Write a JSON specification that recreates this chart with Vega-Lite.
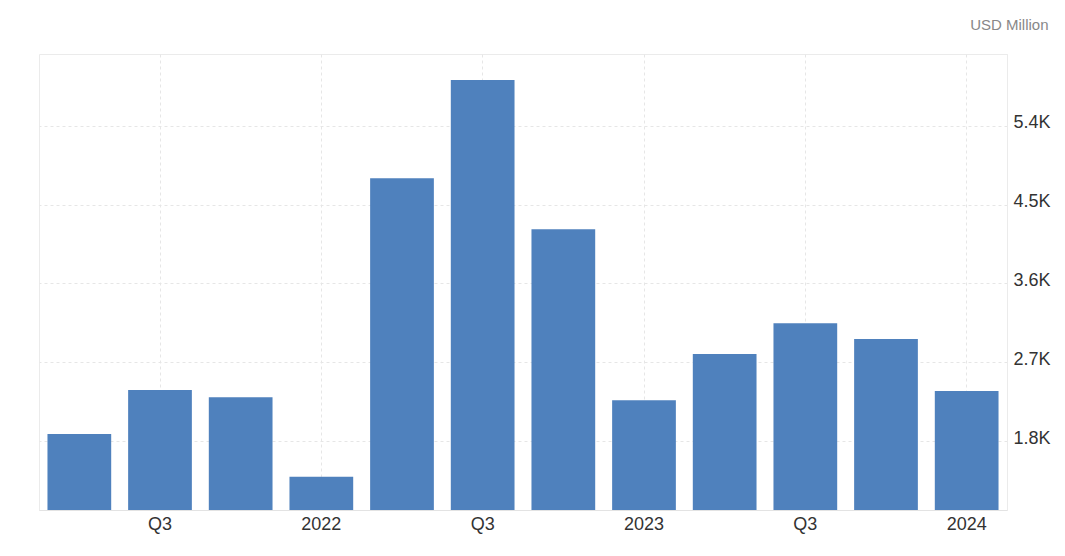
{
  "$schema": "https://vega.github.io/schema/vega-lite/v6.json",
  "width": 968,
  "height": 456,
  "autosize": "none",
  "padding": {"left": 39, "top": 54, "right": 58, "bottom": 46},
  "background": "white",
  "config": {
    "font": "Liberation Sans",
    "view": {"stroke": "#ebebeb", "strokeWidth": 1}
  },
  "data": {
    "values": [
      {"quarter": "2021 Q2", "value": 1882},
      {"quarter": "2021 Q3", "value": 2384},
      {"quarter": "2021 Q4", "value": 2301},
      {"quarter": "2022 Q1", "value": 1395},
      {"quarter": "2022 Q2", "value": 4800},
      {"quarter": "2022 Q3", "value": 5922},
      {"quarter": "2022 Q4", "value": 4218},
      {"quarter": "2023 Q1", "value": 2267},
      {"quarter": "2023 Q2", "value": 2795},
      {"quarter": "2023 Q3", "value": 3145},
      {"quarter": "2023 Q4", "value": 2966},
      {"quarter": "2024 Q1", "value": 2373}
    ]
  },
  "mark": {"type": "bar", "color": "#4f81bd", "clip": true},
  "encoding": {
    "x": {
      "field": "quarter",
      "type": "ordinal",
      "sort": null,
      "scale": {"paddingInner": 0.21, "paddingOuter": 0.105},
      "axis": {
        "title": null,
        "values": ["2021 Q3", "2022 Q1", "2022 Q3", "2023 Q1", "2023 Q3", "2024 Q1"],
        "labelExpr": "indexof(datum.value, 'Q1') >= 0 ? slice(datum.value, 0, 4) : 'Q3'",
        "labelAngle": 0,
        "labelFontSize": 18,
        "labelColor": "#333333",
        "labelPadding": 5,
        "labelBaseline": "top",
        "ticks": false,
        "tickSize": 0,
        "domain": true,
        "domainColor": "#e3e3e3",
        "grid": true,
        "gridColor": "#e6e6e6",
        "gridDash": [3, 3],
        "bandPosition": 0.5
      }
    },
    "y": {
      "field": "value",
      "type": "quantitative",
      "scale": {"domain": [1015, 6218], "nice": false, "zero": false},
      "axis": {
        "orient": "right",
        "values": [1800, 2700, 3600, 4500, 5400],
        "labelExpr": "format(datum.value / 1000, '.1f') + 'K'",
        "labelFontSize": 18,
        "labelColor": "#333333",
        "labelPadding": 6,
        "labelOffset": -3,
        "ticks": false,
        "tickSize": 0,
        "domain": true,
        "domainColor": "#ebebeb",
        "grid": true,
        "gridColor": "#e6e6e6",
        "gridDash": [3, 3],
        "title": "USD Million",
        "titleAngle": 0,
        "titleX": 41,
        "titleY": -30,
        "titleAlign": "right",
        "titleBaseline": "middle",
        "titleColor": "#888888",
        "titleFontSize": 15,
        "titleFontWeight": "normal"
      }
    }
  }
}
